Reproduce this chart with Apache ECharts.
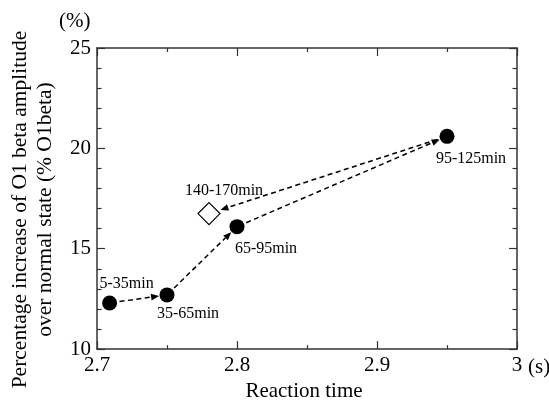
<!DOCTYPE html>
<html>
<head>
<meta charset="utf-8">
<script src="https://cdn.jsdelivr.net/npm/echarts@6/dist/echarts.min.js"></script>
<style>
  html, body { margin: 0; padding: 0; background: #fff; }
  #chart { width: 549px; height: 407px; }
</style>
</head>
<body>
<div id="chart"></div>
<script>
// values
var periods = ['5-35min', '35-65min', '65-95min', '95-125min', '140-170min'];
var reactionTime = [2.709, 2.75, 2.80, 2.95, 2.78];
var betaIncrease = [12.3, 12.7, 16.1, 20.6, 16.75];
// arrows between periods (index into the arrays above)
var arrowFrom = [0, 1, 2, 3];
var arrowTo = [1, 2, 3, 4];
var xTicks = [2.7, 2.8, 2.9, 3];
var yTicks = [10, 15, 20, 25];

var serif = 'Liberation Serif';
var chart = echarts.init(document.getElementById('chart'));

// label placement around each marker, in px
var labelOffsets = [[17, -19], [21, 19], [29, 22], [24, 22], [15, -23]];

function pointItem(i) {
	return {
		value: [reactionTime[i], betaIncrease[i]],
		name: periods[i],
		label: { offset: labelOffsets[i] }
	};
}

var circles = [];
for (var i = 0; i < 4; i++) circles.push(pointItem(i));
var diamonds = [pointItem(4)];

var arrowData = [];
for (var k = 0; k < arrowFrom.length; k++) {
	arrowData.push([
		reactionTime[arrowFrom[k]], betaIncrease[arrowFrom[k]],
		reactionTime[arrowTo[k]], betaIncrease[arrowTo[k]],
		arrowTo[k]
	]);
}

function renderArrow(params, api) {
	var p0 = api.coord([api.value(0), api.value(1)]);
	var p1 = api.coord([api.value(2), api.value(3)]);
	var dx = p1[0] - p0[0], dy = p1[1] - p0[1];
	var len = Math.sqrt(dx * dx + dy * dy);
	var ux = dx / len, uy = dy / len;
	var nx = -uy, ny = ux;
	var startGap = 10;
	var endGap = api.value(4) === 4 ? 12 : 8;
	var s = [p0[0] + ux * startGap, p0[1] + uy * startGap];
	var tip = [p1[0] - ux * endGap, p1[1] - uy * endGap];
	var headLen = 8, headW = 3.3;
	var base = [tip[0] - ux * headLen, tip[1] - uy * headLen];
	return {
		type: 'group',
		children: [{
			type: 'line',
			shape: { x1: s[0], y1: s[1], x2: base[0], y2: base[1] },
			style: { stroke: '#000', lineWidth: 1.5, lineDash: [5, 3.5], fill: null }
		}, {
			type: 'polygon',
			shape: { points: [tip, [base[0] + nx * headW, base[1] + ny * headW], [base[0] - nx * headW, base[1] - ny * headW]] },
			style: { fill: '#000' }
		}]
	};
}

var axisLine = { show: true, lineStyle: { color: '#333', width: 1.5 } };
var tickStyle = { color: '#333', width: 1.2 };

var pointLabel = {
	show: true,
	formatter: '{b}',
	position: 'inside',
	color: '#000',
	fontFamily: serif,
	fontSize: 16
};

var option = {
	animation: false,
	backgroundColor: '#fff',
	grid: { left: 92, right: 32, top: 48, bottom: 55 },
	xAxis: [{
		type: 'value',
		min: xTicks[0],
		max: xTicks[xTicks.length - 1],
		interval: 0.1,
		position: 'bottom',
		axisLine: axisLine,
		axisTick: { show: true, inside: true, length: 8, lineStyle: tickStyle },
		minorTick: { show: true, splitNumber: 2, length: 4, lineStyle: tickStyle },
		splitLine: { show: false },
		axisLabel: { color: '#000', fontFamily: serif, fontSize: 21, margin: 6 },
		name: 'Reaction time',
		nameLocation: 'middle',
		nameGap: 27,
		nameTextStyle: { color: '#000', fontFamily: serif, fontSize: 21, padding: [0, 6, 0, 0] }
	}, {
		type: 'value',
		min: xTicks[0],
		max: xTicks[xTicks.length - 1],
		interval: 0.1,
		position: 'top',
		axisLine: axisLine,
		axisTick: { show: true, inside: true, length: 8, lineStyle: tickStyle },
		minorTick: { show: true, splitNumber: 2, length: 4, lineStyle: tickStyle },
		splitLine: { show: false },
		axisLabel: { show: false }
	}],
	yAxis: [{
		type: 'value',
		min: yTicks[0],
		max: yTicks[yTicks.length - 1],
		interval: 5,
		position: 'left',
		axisLine: axisLine,
		axisTick: { show: true, inside: true, length: 8, lineStyle: tickStyle },
		minorTick: { show: true, splitNumber: 5, length: 4.5, lineStyle: tickStyle },
		splitLine: { show: false },
		axisLabel: { color: '#000', fontFamily: serif, fontSize: 21, margin: 6 },
		name: 'Percentage increase of O1 beta amplitude\nover normal state (% O1beta)',
		nameLocation: 'middle',
		nameGap: 39,
		nameTextStyle: { color: '#000', fontFamily: serif, fontSize: 21.5, lineHeight: 25, padding: [0, 22, 0, 0] }
	}, {
		type: 'value',
		min: yTicks[0],
		max: yTicks[yTicks.length - 1],
		interval: 5,
		position: 'right',
		axisLine: axisLine,
		axisTick: { show: true, inside: true, length: 8, lineStyle: tickStyle },
		minorTick: { show: true, splitNumber: 5, length: 4.5, lineStyle: tickStyle },
		splitLine: { show: false },
		axisLabel: { show: false }
	}],
	graphic: [{
		type: 'text',
		left: 59,
		top: 11,
		style: { text: '(%)', fill: '#000', font: '21px "Liberation Serif"' }
	}, {
		type: 'text',
		left: 528,
		top: 357,
		style: { text: '(s)', fill: '#000', font: '21px "Liberation Serif"' }
	}],
	series: [{
		type: 'custom',
		renderItem: renderArrow,
		data: arrowData,
		encode: { x: [0, 2], y: [1, 3] },
		z: 1
	}, {
		type: 'scatter',
		data: circles,
		symbol: 'circle',
		symbolSize: 15,
		itemStyle: { color: '#000', opacity: 1 },
		label: pointLabel,
		z: 3
	}, {
		type: 'scatter',
		data: diamonds,
		symbol: 'diamond',
		symbolSize: 22,
		itemStyle: { color: '#fff', borderColor: '#000', borderWidth: 1.2, opacity: 1 },
		label: pointLabel,
		z: 3
	}]
};

chart.setOption(option);
</script>
</body>
</html>
